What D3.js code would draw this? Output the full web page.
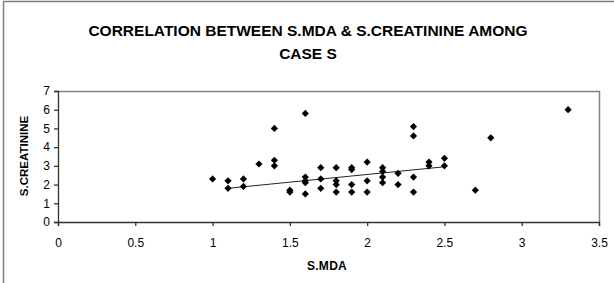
<!DOCTYPE html>
<html>
<head>
<meta charset="utf-8">
<script src="https://cdn.jsdelivr.net/npm/d3@7"></script>
<style>
  body { margin: 0; background: #fff; }
  text { font-family: "Liberation Sans", Arial, sans-serif; fill: #000; }
</style>
</head>
<body>
<div id="chart"></div>
<script>
const width = 614, height = 283;

// S.MDA values (x) and S.CREATININE values (y)
const mda = [1.0, 1.1, 1.1, 1.2, 1.2, 1.3, 1.4, 1.4, 1.4, 1.5, 1.5,
  1.6, 1.6, 1.6, 1.6, 1.6, 1.7, 1.7, 1.7, 1.8, 1.8, 1.8, 1.8,
  1.9, 1.9, 1.9, 1.9, 2.0, 2.0, 2.0, 2.1, 2.1, 2.1, 2.1,
  2.2, 2.2, 2.3, 2.3, 2.3, 2.3, 2.4, 2.4, 2.5, 2.5, 2.7, 2.8, 3.3];
const creatinine = [2.3, 2.2, 1.8, 2.3, 1.9, 3.1, 5.0, 3.3, 3.0, 1.7, 1.6,
  5.8, 2.4, 2.2, 2.1, 1.5, 2.9, 2.3, 1.8, 2.9, 2.2, 2.0, 1.6,
  2.9, 2.8, 2.0, 1.6, 3.2, 2.2, 1.6, 2.9, 2.7, 2.4, 2.1,
  2.6, 2.0, 5.1, 4.6, 2.4, 1.6, 3.2, 3.0, 3.4, 3.0, 1.7, 4.5, 6.0];

// linear trend line ends
const trendX = [1.1, 2.5];
const trendY = [1.8, 2.95];

const xTicks = [0, 0.5, 1, 1.5, 2, 2.5, 3, 3.5];
const yTicks = [0, 1, 2, 3, 4, 5, 6, 7];

const titleLines = ["CORRELATION BETWEEN S.MDA & S.CREATININE AMONG", "CASE S"];
const xTitle = "S.MDA", yTitle = "S.CREATININE";

const plotLeft = 58, plotRight = 599, plotTop = 91, plotBottom = 222;

const x = d3.scaleLinear().domain([0, 3.5]).range([plotLeft, plotRight]);
const y = d3.scaleLinear().domain([0, 7]).range([plotBottom, plotTop]);

const svg = d3.select("#chart").append("svg")
  .attr("width", width).attr("height", height);

// chart area border (only left and top show)
svg.append("path")
  .attr("d", `M3.5,${height} V1.5 H${width}`)
  .attr("fill", "none").attr("stroke", "#7f7f7f").attr("stroke-width", 1.5);

// plot area border
svg.append("path")
  .attr("d", `M${plotLeft},${plotTop + 0.5} H${plotRight + 0.5} V${plotBottom}`)
  .attr("fill", "none").attr("stroke", "#808080").attr("stroke-width", 1.5);

// title
svg.selectAll("text.title")
  .data(titleLines)
  .enter().append("text")
    .attr("class", "title")
    .attr("x", 308)
    .attr("y", (d, i) => 36 + i * 23)
    .attr("text-anchor", "middle")
    .style("font-size", "15.5px")
    .style("font-weight", "bold")
    .text(d => d);

const fmt = d3.format("");

const xAxis = svg.append("g")
  .attr("transform", `translate(0,${plotBottom})`)
  .call(d3.axisBottom(x).tickValues(xTicks).tickSize(4).tickPadding(12)
    .tickFormat(fmt));

const yAxis = svg.append("g")
  .attr("transform", `translate(${plotLeft},0)`)
  .call(d3.axisLeft(y).tickValues(yTicks).tickSize(4).tickPadding(4)
    .tickFormat(fmt));

[xAxis, yAxis].forEach(g => {
  g.select(".domain").attr("stroke", "#333").attr("stroke-width", 1.3);
  g.selectAll(".tick line").attr("stroke", "#333").attr("stroke-width", 1.3);
  g.selectAll(".tick text")
    .style("font-size", "12px")
    .style("font-family", "'Liberation Sans', Arial, sans-serif")
    .attr("fill", "#000");
});

svg.append("text")
  .attr("x", 327).attr("y", 270)
  .attr("text-anchor", "middle")
  .style("font-size", "12px").style("font-weight", "bold")
  .style("letter-spacing", "0.3px")
  .text(xTitle);

svg.append("text")
  .attr("transform", "translate(28,156) rotate(-90)")
  .attr("text-anchor", "middle")
  .style("font-size", "11.5px").style("font-weight", "bold")
  .text(yTitle);

// trend line
const line = d3.line().x(d => x(d[0])).y(d => y(d[1]));
svg.append("path")
  .datum(trendX.map((v, i) => [v, trendY[i]]))
  .attr("d", line)
  .attr("fill", "none").attr("stroke", "#222").attr("stroke-width", 1);

// diamond markers
const diamond = d3.symbol(d3.symbolSquare, 26);
svg.append("g")
  .selectAll("path")
  .data(mda.map((v, i) => [v, creatinine[i]]))
  .enter().append("path")
    .attr("d", diamond)
    .attr("transform", d => `translate(${x(d[0])},${y(d[1])}) rotate(45)`)
    .attr("fill", "#000");
</script>
</body>
</html>
